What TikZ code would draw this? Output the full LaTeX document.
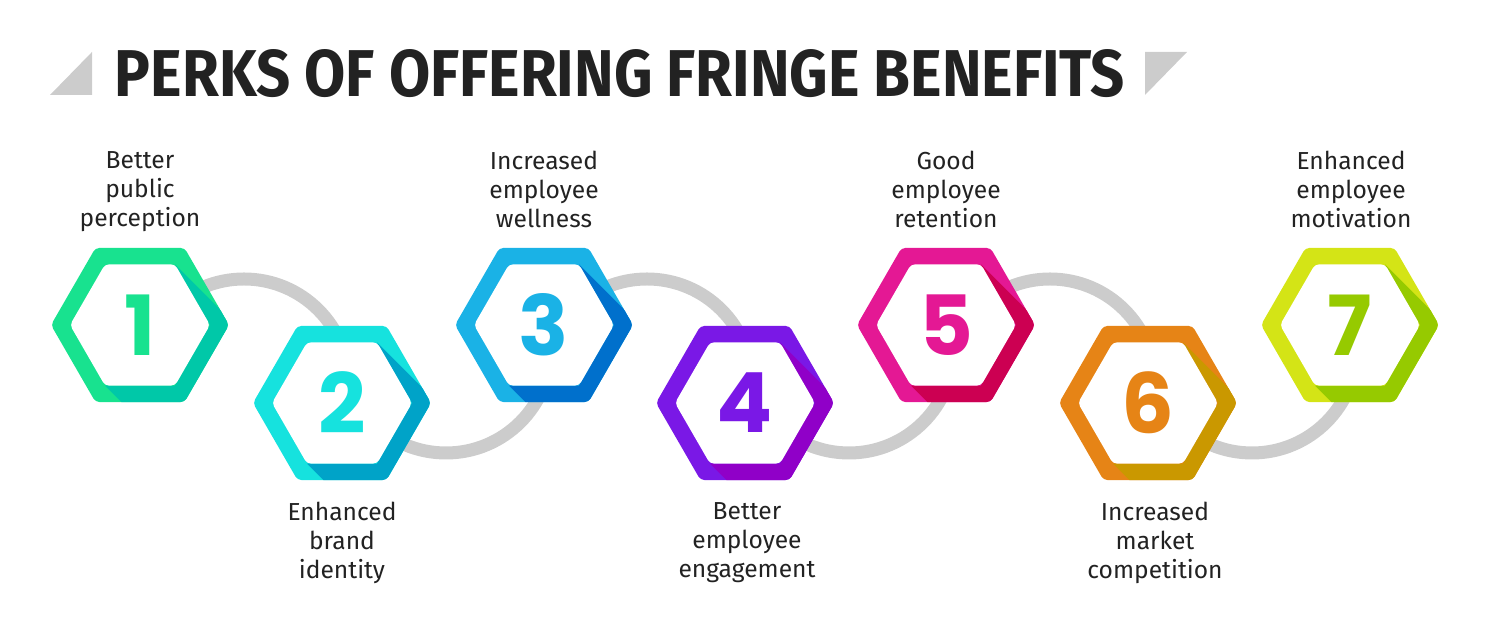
\documentclass[tikz,border=0pt]{standalone}
\usepackage{fontspec}
\usepackage{graphicx}
\setmainfont{Fira Sans}
\newfontfamily\numfont{Poppins}

\definecolor{waveGray}{RGB}{204,204,204}
\definecolor{textDark}{RGB}{34,34,34}
\definecolor{greenA}{RGB}{24,226,143}
\definecolor{greenB}{RGB}{0,200,168}
\definecolor{cyanA}{RGB}{22,226,222}
\definecolor{cyanB}{RGB}{0,163,200}
\definecolor{blueA}{RGB}{26,178,230}
\definecolor{blueB}{RGB}{0,112,204}
\definecolor{violetA}{RGB}{122,24,230}
\definecolor{violetB}{RGB}{144,0,200}
\definecolor{pinkA}{RGB}{228,24,148}
\definecolor{pinkB}{RGB}{204,0,82}
\definecolor{orangeA}{RGB}{230,132,22}
\definecolor{orangeB}{RGB}{202,152,0}
\definecolor{limeA}{RGB}{212,228,22}
\definecolor{limeB}{RGB}{150,202,0}

\tikzset{
	wave/.style={draw=waveGray, line width=6.5pt},
	perklabel/.style={align=center, text=textDark, inner sep=0pt, font=\fontsize{12.3pt}{14.5pt}\selectfont},
	digit/.style={inner sep=0pt, font=\numfont\bfseries\fontsize{41.5pt}{41.5pt}\selectfont}
}

%hexagon: name, centre, light colour, shadow colour, digit colour, digit
\newcommand{\perkhex}[6]{%
	\begin{scope}[shift={(#2)}]
	\coordinate (#1) at (0,0);
	\fill [#3, rounded corners=2pt] (0:89) -- (60:89) -- (120:89) -- (180:89) -- (240:89) -- (300:89) -- cycle;
	\begin{scope}
	\clip [rounded corners=2pt] (0:89) -- (60:89) -- (120:89) -- (180:89) -- (240:89) -- (300:89) -- cycle;
	\fill [#4] (60:70) -- ++(200,-200) -- ++(-70,-121.24) -- (240:70) -- (300:70) -- (0:70) -- cycle;
	\end{scope}
	\fill [white, rounded corners=2pt] (0:70) -- (60:70) -- (120:70) -- (180:70) -- (240:70) -- (300:70) -- cycle;
	\node (#1d) [digit, text=#5] at (0,0) {#6};
	\end{scope}
}

\begin{document}
\begin{tikzpicture}[x=0.5pt, y=0.5pt]
	\useasboundingbox (0,0) rectangle (1490,630);

	%Title and corner triangles
	\fill [waveGray] (50,535) -- (92,535) -- (92,578) -- cycle;
	\fill [waveGray] (1145,578) -- (1187,578) -- (1145,535) -- cycle;
	\node (title) [text=textDark, inner sep=0pt] at (620,556.5) {\resizebox{505pt}{23.5pt}{\bfseries PERKS OF OFFERING FRINGE BENEFITS}};

	%Wave behind the hexagons
	\coordinate (a12) at (244,246);
	\coordinate (a23) at (446,282);
	\coordinate (a34) at (647,246);
	\coordinate (a45) at (849,282);
	\coordinate (a56) at (1050,246);
	\coordinate (a67) at (1252,282);
	\draw [wave] (a12) ++(180:105) arc [start angle=180, end angle=0, radius=105];
	\draw [wave] (a23) ++(180:105) arc [start angle=180, end angle=360, radius=105];
	\draw [wave] (a34) ++(180:105) arc [start angle=180, end angle=0, radius=105];
	\draw [wave] (a45) ++(180:105) arc [start angle=180, end angle=360, radius=105];
	\draw [wave] (a56) ++(180:105) arc [start angle=180, end angle=0, radius=105];
	\draw [wave] (a67) ++(180:105) arc [start angle=180, end angle=360, radius=105];

	%Hexagons
	\perkhex{p1}{140,305}{greenA}{greenB}{greenA}{1}
	\perkhex{p2}{342,227}{cyanA}{cyanB}{cyanA}{2}
	\perkhex{p3}{544,305}{blueA}{blueB}{blueA}{3}
	\perkhex{p4}{745,227}{violetA}{violetB}{violetA}{4}
	\perkhex{p5}{946,305}{pinkA}{pinkB}{pinkA}{5}
	\perkhex{p6}{1148,227}{orangeA}{orangeB}{orangeA}{6}
	\perkhex{p7}{1350,305}{limeA}{limeB}{limeB}{7}

	%Labels above
	\node (l1) [perklabel] at (140,438) {Better\\public\\perception};
	\node (l3) [perklabel] at (544,441) {Increased\\employee\\wellness};
	\node (l5) [perklabel] at (946,441) {Good\\employee\\retention};
	\node (l7) [perklabel] at (1351,441) {Enhanced\\employee\\motivation};

	%Labels below
	\node (l2) [perklabel] at (342,87) {Enhanced\\brand\\identity};
	\node (l4) [perklabel] at (747,87) {Better\\employee\\engagement};
	\node (l6) [perklabel] at (1155,87) {Increased\\market\\competition};
\end{tikzpicture}
\end{document}
